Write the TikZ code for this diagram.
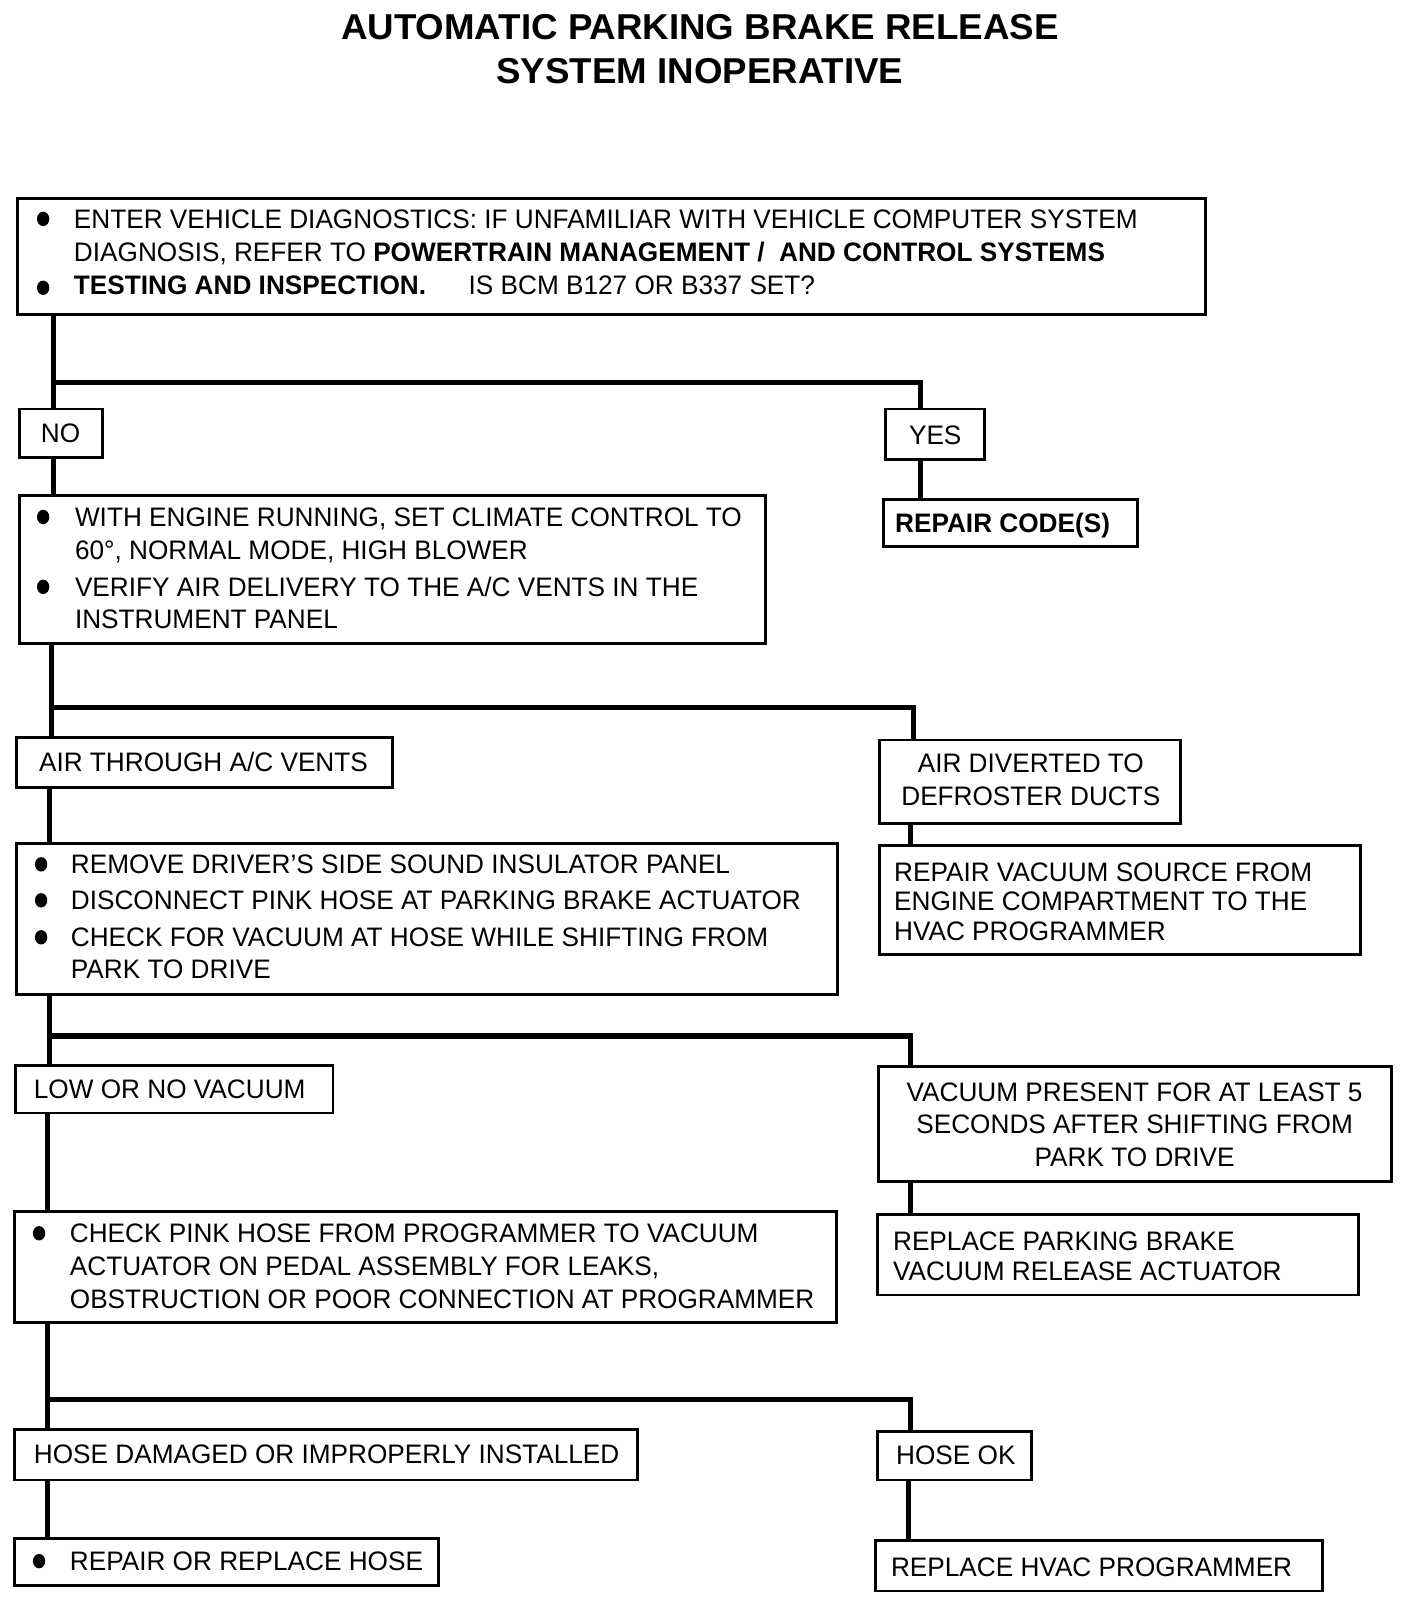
\documentclass[tikz,border=0pt]{standalone}
\usepackage{fontspec}
\setmainfont{Liberation Sans}[FakeStretch=0.98]
\newfontfamily\ttlfont{Liberation Sans}[FakeStretch=1.02]
\begin{document}
\begin{tikzpicture}[x=1pt,y=-1pt,
  box/.style={draw=black,line width=2.8pt,fill=white,rectangle,inner sep=0pt,outer sep=0pt},
  conn/.style={line width=5pt},
  txt/.style={inner sep=0pt,outer sep=0pt,font=\fontsize{26}{30}\selectfont},
  ttl/.style={inner sep=0pt,font=\ttlfont\fontsize{35}{42}\selectfont\bfseries}]
\useasboundingbox[fill=white] (0,0) rectangle (1370,1568.5);
\newcommand{\bx}[5]{\node[box,anchor=north west,minimum width=#4-#2,minimum height=#5-#3] (#1) at (#2,#3) {};}
\newcommand{\tl}[3]{\node[txt,anchor=base west] at (#1,#2+9.3) {#3};}
\newcommand{\tc}[3]{\node[txt,anchor=base] at (#1,#2+9.3) {#3};}
\newcommand{\bul}[2]{\fill (#1,#2) ellipse (6 and 7);}
% title
\node[ttl,anchor=base] (t1) at (681,38) {AUTOMATIC PARKING BRAKE RELEASE};
\node[ttl,anchor=base] (t2) at (681,81) {SYSTEM INOPERATIVE};
% boxes
\bx{b1}{17}{193}{1173}{306}
\bx{no}{19}{398}{100}{445}
\bx{yes}{862}{398}{958}{447}
\bx{rc}{860}{486}{1107}{532}
\bx{b2}{19}{482}{745}{626}
\bx{ac}{16}{718}{382}{766}
\bx{ad}{856}{720}{1149}{801}
\bx{b3}{16}{821}{815}{968}
\bx{rv}{856}{823}{1324}{929}
\bx{low}{15}{1037}{324}{1083}
\bx{vp}{855}{1038}{1354}{1150}
\bx{b4}{14}{1179}{814}{1287}
\bx{rp}{854}{1182}{1322}{1260}
\bx{hd}{14}{1391}{620}{1440}
\bx{ok}{854}{1393}{1004}{1440}
\bx{rh}{14}{1497}{427}{1543}
\bx{hv}{852}{1499}{1287}{1548}
% junctions
\coordinate (j1) at (52,372); \coordinate (j1r) at (896,372);
\coordinate (j2) at (50,688); \coordinate (j2r) at (889,688);
\coordinate (j3) at (48,1008); \coordinate (j3r) at (886,1008);
\coordinate (j4) at (46,1362); \coordinate (j4r) at (886,1362);
\coordinate (k2) at (886,0); \coordinate (k3) at (48,0); \coordinate (k5) at (46,0); \coordinate (k7) at (884,0);
% connectors
\draw[conn] (b1.south -| j1) -- (no.north -| j1);
\draw[conn] (no.south -| j1) -- (b2.north -| j1);
\draw[conn] (j1) -- (j1r) -- (yes.north -| j1r);
\draw[conn] (yes.south -| j1r) -- (rc.north -| j1r);
\draw[conn] (b2.south -| j2) -- (ac.north -| j2);
\draw[conn] (j2) -- (j2r) -- (ad.north -| j2r);
\draw[conn] (ad.south -| k2) -- (rv.north -| k2);
\draw[conn] (ac.south -| k3) -- (b3.north -| k3);
\draw[conn] (b3.south -| j3) -- (low.north -| j3);
\draw[conn] (j3) -- (j3r) -- (vp.north -| j3r);
\draw[conn] (vp.south -| j3r) -- (rp.north -| j3r);
\draw[conn] (low.south -| k5) -- (b4.north -| k5);
\draw[conn] (b4.south -| j4) -- (hd.north -| j4);
\draw[conn] (j4) -- (j4r) -- (ok.north -| j4r);
\draw[conn] (hd.south -| k5) -- (rh.north -| k5);
\draw[conn] (ok.south -| k7) -- (hv.north -| k7);
% redraw boxes on top of the connectors
\foreach \n in {b1,no,yes,rc,b2,ac,ad,b3,rv,low,vp,b4,rp,hd,ok,rh,hv}{\draw[line width=2.8pt,fill=white] (\n.north west) rectangle (\n.south east);}
% texts
\bul{42}{213}\bul{42}{280}
\tl{72}{213}{ENTER VEHICLE DIAGNOSTICS: IF UNFAMILIAR WITH VEHICLE COMPUTER SYSTEM}
\tl{72}{245}{DIAGNOSIS, REFER TO \textbf{POWERTRAIN MANAGEMENT /\ \ AND CONTROL SYSTEMS}}
\tl{72}{277}{\textbf{TESTING AND INSPECTION.}}
\tl{456}{277}{IS BCM B127 OR B337 SET?}
\tc{59}{421}{NO}
\tc{910}{423}{YES}
\tl{871}{509}{\textbf{REPAIR CODE(S)}}
\bul{42}{503}\bul{42}{571}
\tl{73}{503}{WITH ENGINE RUNNING, SET CLIMATE CONTROL TO}
\tl{73}{535}{60°, NORMAL MODE, HIGH BLOWER}
\tl{73}{571}{VERIFY AIR DELIVERY TO THE A/C VENTS IN THE}
\tl{73}{602}{INSTRUMENT PANEL}
\tl{38}{741}{AIR THROUGH A/C VENTS}
\tc{1003}{742}{AIR DIVERTED TO}
\tc{1003}{774}{DEFROSTER DUCTS}
\bul{40}{841}\bul{40}{876}\bul{40}{912}
\tl{69}{841}{REMOVE DRIVER’S SIDE SOUND INSULATOR PANEL}
\tl{69}{876}{DISCONNECT PINK HOSE AT PARKING BRAKE ACTUATOR}
\tl{69}{912}{CHECK FOR VACUUM AT HOSE WHILE SHIFTING FROM}
\tl{69}{943}{PARK TO DRIVE}
\tl{870}{848}{REPAIR VACUUM SOURCE FROM}
\tl{870}{877}{ENGINE COMPARTMENT TO THE}
\tl{870}{906}{HVAC PROGRAMMER}
\tl{33}{1060}{LOW OR NO VACUUM}
\tc{1104}{1062}{VACUUM PRESENT FOR AT LEAST 5}
\tc{1104}{1094}{SECONDS AFTER SHIFTING FROM}
\tc{1104}{1126}{PARK TO DRIVE}
\bul{38}{1200}
\tl{68}{1200}{CHECK PINK HOSE FROM PROGRAMMER TO VACUUM}
\tl{68}{1232}{ACTUATOR ON PEDAL ASSEMBLY FOR LEAKS,}
\tl{68}{1264}{OBSTRUCTION OR POOR CONNECTION AT PROGRAMMER}
\tl{869}{1207}{REPLACE PARKING BRAKE}
\tl{869}{1237}{VACUUM RELEASE ACTUATOR}
\tl{33}{1415}{HOSE DAMAGED OR IMPROPERLY INSTALLED}
\tl{872}{1416}{HOSE OK}
\bul{38}{1519}
\tl{68}{1519}{REPAIR OR REPLACE HOSE}
\tl{867}{1525}{REPLACE HVAC PROGRAMMER}
\end{tikzpicture}
\end{document}
